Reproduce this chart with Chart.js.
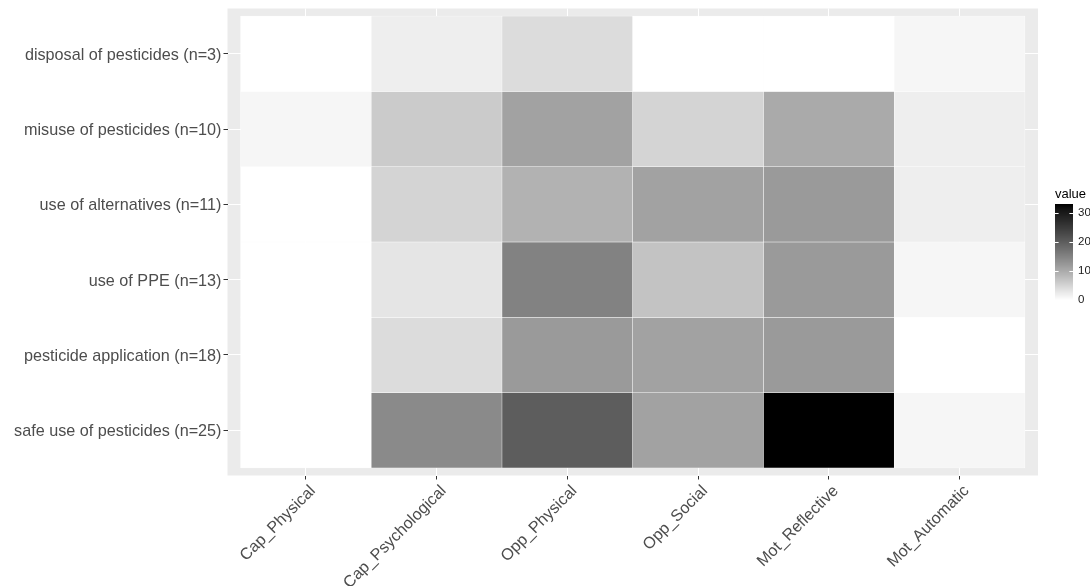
<!DOCTYPE html>
<html>
<head>
<meta charset="utf-8">
<script src="https://cdn.jsdelivr.net/npm/chart.js@4/dist/chart.umd.min.js"></script>
<style>
  html, body { margin: 0; padding: 0; background: #ffffff; }
  #wrap { width: 1090px; height: 586px; position: relative; }
</style>
</head>
<body>
<div id="wrap"><canvas id="c" width="1090" height="586"></canvas></div>
<script>
// ---- data (rows listed bottom to top, as in the picture) ----
const columns = ['Cap_Physical', 'Cap_Psychological', 'Opp_Physical', 'Opp_Social', 'Mot_Reflective', 'Mot_Automatic'];
const rows = [
  'safe use of pesticides (n=25)',
  'pesticide application (n=18)',
  'use of PPE (n=13)',
  'use of alternatives (n=11)',
  'misuse of pesticides (n=10)',
  'disposal of pesticides (n=3)'
];
const safeUse      = [0, 14, 20, 11, 33, 1];
const application  = [0,  4, 12, 11, 12, 0];
const usePPE       = [0,  3, 15,  7, 12, 1];
const alternatives = [0,  5,  9, 11, 12, 2];
const misuse       = [1,  6, 11,  5, 10, 2];
const disposal     = [0,  2,  4,  0,  0, 1];
const rowValues = [safeUse, application, usePPE, alternatives, misuse, disposal];
const legendTicks = [0, 10, 20, 30];
const legendTitle = 'value';

// ---- colour scale (white -> black, linear in CIE L*) ----
const vMin = 0;
const vMax = Math.max(...rowValues.flat());
function grayFor(v) {
  const t = (v - vMin) / (vMax - vMin);
  const L = 100 * (1 - t);
  const fy = (L + 16) / 116;
  const Y = L > 8 ? fy * fy * fy : L / 903.3;
  const s = Y <= 0.0031308 ? 12.92 * Y : 1.055 * Math.pow(Y, 1 / 2.4) - 0.055;
  const g = Math.round(Math.max(0, Math.min(1, s)) * 255);
  return 'rgb(' + g + ',' + g + ',' + g + ')';
}

// ---- tiles built from the arrays ----
const tiles = [];
rowValues.forEach((vals, r) => {
  vals.forEach((v, c) => {
    tiles.push({ x: c + 1, y: [r + 0.5, r + 1.5], v: v });
  });
});

const FONT = '"Liberation Sans", Arial, sans-serif';

const panelBg = {
  id: 'panelBg',
  beforeDraw(chart) {
    const { ctx, chartArea: a } = chart;
    ctx.save();
    ctx.fillStyle = '#ffffff';
    ctx.fillRect(0, 0, chart.width, chart.height);
    ctx.fillStyle = '#EBEBEB';
    ctx.fillRect(a.left, a.top, a.right - a.left, a.bottom - a.top);
    ctx.restore();
  }
};

const colorbar = {
  id: 'colorbar',
  afterDraw(chart) {
    const ctx = chart.ctx;
    const x0 = 1055, w = 18, yTop = 204, yBot = 300;
    const h = yBot - yTop;
    const toY = v => yBot - (v - vMin) / (vMax - vMin) * h;
    ctx.save();
    ctx.fillStyle = '#000000';
    ctx.font = '13px ' + FONT;
    ctx.textAlign = 'left';
    ctx.textBaseline = 'alphabetic';
    ctx.fillText(legendTitle, 1055, 198);
    for (let i = 0; i < h; i++) {
      const v = vMax - (i + 0.5) / h * (vMax - vMin);
      ctx.fillStyle = grayFor(v);
      ctx.fillRect(x0, yTop + i, w, 1.2);
    }
    ctx.strokeStyle = '#ffffff';
    ctx.lineWidth = 1;
    ctx.font = '11.5px ' + FONT;
    ctx.textBaseline = 'middle';
    ctx.fillStyle = '#1A1A1A';
    legendTicks.forEach(t => {
      const y = Math.round(toY(t)) + 0.5;
      ctx.beginPath();
      ctx.moveTo(x0, y); ctx.lineTo(x0 + 3.6, y);
      ctx.moveTo(x0 + w - 3.6, y); ctx.lineTo(x0 + w, y);
      ctx.stroke();
      ctx.fillText(String(t), x0 + w + 5, toY(t));
    });
    ctx.restore();
  }
};

new Chart(document.getElementById('c'), {
  type: 'bar',
  data: {
    datasets: [{
      data: tiles,
      backgroundColor: ctx => grayFor(ctx.raw.v),
      borderColor: '#ffffff',
      borderWidth: 0.5,
      borderSkipped: false,
      categoryPercentage: 1,
      barPercentage: 1
    }]
  },
  options: {
    responsive: false,
    animation: false,
    devicePixelRatio: 1,
    layout: { padding: { left: 0, right: 52, top: 8.5, bottom: 0 } },
    plugins: { legend: { display: false }, tooltip: { enabled: false } },
    scales: {
      x: {
        type: 'linear',
        min: 0.4,
        max: 6.6,
        offset: false,
        afterBuildTicks: axis => { axis.ticks = columns.map((_, i) => ({ value: i + 1 })); },
        afterFit: axis => { axis.height = 110.5; axis.paddingLeft = 0; axis.paddingRight = 0; },
        border: { display: false },
        grid: { offset: false, color: '#ffffff', lineWidth: 1, drawTicks: true, tickLength: 4, tickColor: '#333333', tickWidth: 1 },
        ticks: {
          autoSkip: false,
          minRotation: 45,
          maxRotation: 45,
          padding: 2,
          labelOffset: 7,
          color: '#4D4D4D',
          font: { family: FONT, size: 16.2 },
          callback: v => columns[Math.round(v) - 1]
        }
      },
      y: {
        type: 'linear',
        min: 0.4,
        max: 6.6,
        offset: false,
        afterBuildTicks: axis => { axis.ticks = rows.map((_, i) => ({ value: i + 1 })); },
        afterFit: axis => { axis.width = 227.5; axis.paddingTop = 0; axis.paddingBottom = 0; },
        border: { display: false },
        grid: { offset: false, color: '#ffffff', lineWidth: 1, drawTicks: true, tickLength: 4, tickColor: '#333333', tickWidth: 1 },
        ticks: {
          autoSkip: false,
          padding: 2,
          labelOffset: 1.5,
          color: '#4D4D4D',
          font: { family: FONT, size: 16.2 },
          callback: v => rows[Math.round(v) - 1]
        }
      }
    }
  },
  plugins: [panelBg, colorbar]
});
</script>
</body>
</html>
